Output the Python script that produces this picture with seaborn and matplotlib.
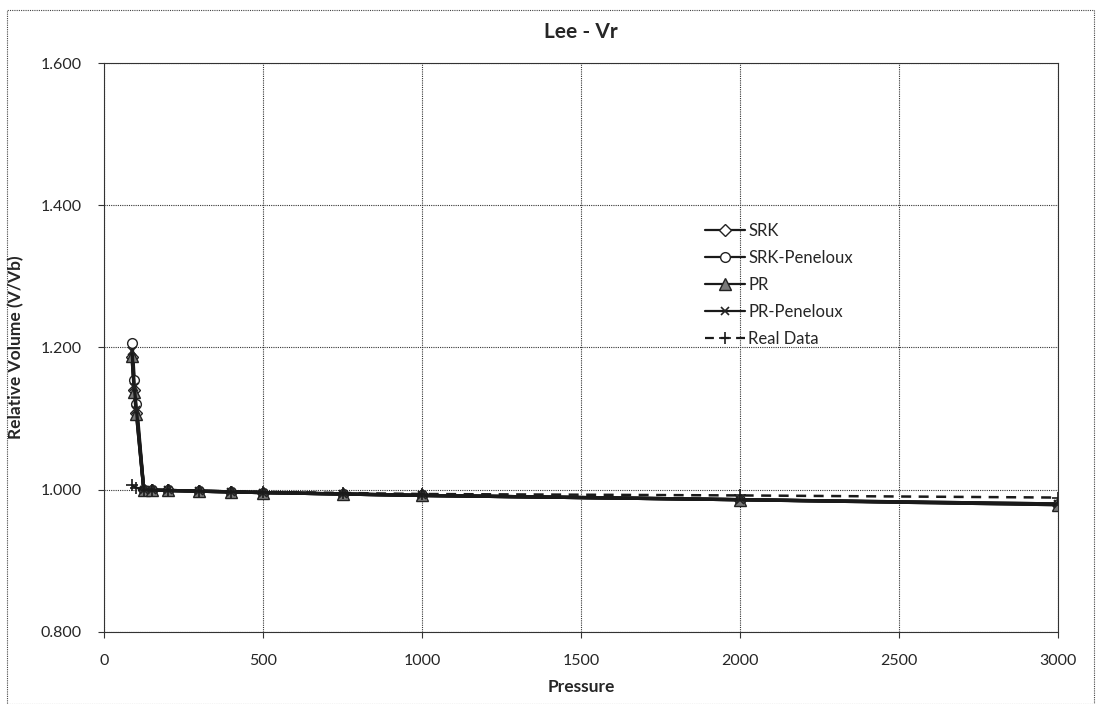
import matplotlib
matplotlib.use("Agg")
import matplotlib.pyplot as plt
import seaborn as sns
import pandas as pd
from matplotlib.patches import Rectangle

# ---- data ----
pressure_model = [88, 95, 102, 125, 150, 200, 300, 400, 500, 750, 1000, 2000, 3000]
srk = [1.186, 1.140, 1.108, 1.000, 0.9995, 0.999, 0.998, 0.997, 0.996, 0.994, 0.992, 0.986, 0.979]
srk_peneloux = [1.207, 1.154, 1.121, 1.000, 0.9995, 0.999, 0.998, 0.997, 0.996, 0.994, 0.992, 0.986, 0.980]
pr = [1.188, 1.138, 1.106, 1.000, 0.9995, 0.999, 0.998, 0.997, 0.996, 0.994, 0.992, 0.986, 0.979]
pr_peneloux = [1.195, 1.145, 1.112, 1.000, 0.9995, 0.999, 0.998, 0.997, 0.996, 0.994, 0.992, 0.986, 0.980]
pressure_real = [88, 100, 125, 150, 200, 300, 400, 500, 750, 1000, 2000, 3000]
real_data = [1.006, 1.003, 1.000, 0.9995, 0.999, 0.998, 0.9975, 0.997, 0.9955, 0.994, 0.992, 0.989]

x_ticks = [0, 500, 1000, 1500, 2000, 2500, 3000]
y_ticks = [0.8, 1.0, 1.2, 1.4, 1.6]

sns.set_theme(style="white")
plt.rcParams['font.family'] = ['Lato', 'DejaVu Sans']

fig = plt.figure(figsize=(11.01, 7.04), dpi=100)
ax = fig.add_axes([0.0945, 0.1023, 0.8665, 0.8082])

series = [
    ("SRK", pressure_model, srk, dict(marker="D", markersize=6, markerfacecolor="white",
                                      markeredgecolor="#222222", markeredgewidth=1.0)),
    ("SRK-Peneloux", pressure_model, srk_peneloux, dict(marker="o", markersize=7, markerfacecolor="white",
                                                        markeredgecolor="#222222", markeredgewidth=1.0)),
    ("PR", pressure_model, pr, dict(marker="^", markersize=8, markerfacecolor="#7a7a7a",
                                    markeredgecolor="#222222", markeredgewidth=1.0)),
    ("PR-Peneloux", pressure_model, pr_peneloux, dict(marker="x", markersize=6,
                                                      markeredgecolor="#222222", markeredgewidth=1.2)),
]
for name, xs, ys, mk in series:
    df = pd.DataFrame({"Pressure": xs, "Vr": ys})
    sns.lineplot(data=df, x="Pressure", y="Vr", ax=ax, color="#1a1a1a", linewidth=2.4,
                 label=name, sort=False, **mk)

df_real = pd.DataFrame({"Pressure": pressure_real, "Vr": real_data})
sns.lineplot(data=df_real, x="Pressure", y="Vr", ax=ax, color="#1a1a1a", linewidth=1.8,
             linestyle=(0, (4, 3)), marker="+", markersize=8, markeredgewidth=1.2,
             markeredgecolor="#1a1a1a", label="Real Data", sort=False)

ax.set_xlim(0, 3000)
ax.set_ylim(0.8, 1.6)
ax.set_xticks(x_ticks)
ax.set_yticks(y_ticks)
ax.set_yticklabels([f"{v:.3f}" for v in y_ticks], fontsize=11.5)
ax.set_xticklabels([str(v) for v in x_ticks], fontsize=11.5)
ax.tick_params(axis="both", which="major", length=4, width=0.8, color="#333333",
               direction="out", pad=12, left=True, bottom=True)
ax.grid(True, color="#333333", linestyle=(0, (1, 1)), linewidth=0.8)
for s in ax.spines.values():
    s.set_color("#333333")
    s.set_linewidth(0.8)
    s.set_linestyle((0, (1, 1)))
ax.spines["left"].set_linestyle("-")

ax.set_xlabel("Pressure", fontsize=12.5, fontweight="bold", labelpad=8)
ax.set_ylabel("Relative Volume (V/Vb)", fontsize=12.5, fontweight="bold", labelpad=12)
ax.set_title("Lee - Vr", fontsize=15, fontweight="bold", pad=18)

leg = ax.legend(loc="upper left", bbox_to_anchor=(0.630, 0.719), frameon=False,
                fontsize=12, handlelength=2.4, handletextpad=0.2, labelspacing=0.66,
                borderaxespad=0, borderpad=0)
for line in leg.get_lines():
    line.set_linewidth(1.6)

fig.patches.append(Rectangle((0.006, 0.0), 0.988, 0.986, transform=fig.transFigure,
                             fill=False, edgecolor="#444444", linewidth=0.8,
                             linestyle=(0, (1, 1))))

fig.savefig("out.png", dpi=100)
